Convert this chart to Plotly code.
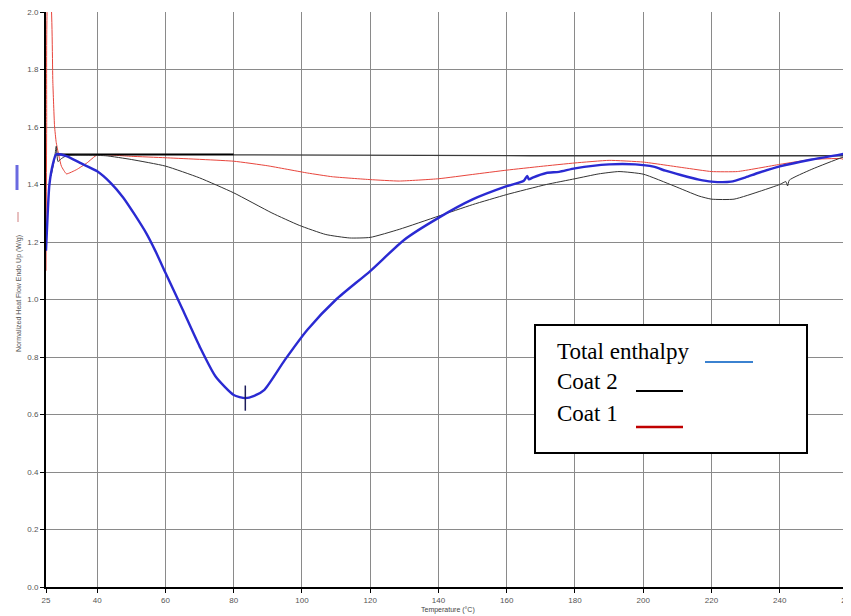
import plotly.graph_objects as go

# ---- data ----
total_T = [25, 25.5, 26, 27, 28, 31, 35, 40, 44, 47.6, 51, 54.4, 57, 60, 65, 70, 74.7, 80, 83.4,
           86, 89, 95, 101.6, 110, 120, 130, 140, 150, 160, 165, 166, 166.5, 167.6, 171.6, 175.3,
           180, 190, 197.7, 203, 206.5, 211, 216.3, 220, 225.7, 230, 233.6, 240, 249.4, 258, 260]
total_H = [1.17, 1.30, 1.40, 1.47, 1.505, 1.499, 1.475, 1.446, 1.405, 1.355, 1.295, 1.23, 1.17, 1.093,
           0.966, 0.837, 0.732, 0.668, 0.657, 0.665, 0.686, 0.79, 0.895, 1.0, 1.099, 1.208, 1.284,
           1.348, 1.394, 1.413, 1.43, 1.418, 1.424, 1.44, 1.444, 1.456, 1.47, 1.47, 1.462, 1.448,
           1.433, 1.417, 1.41, 1.41, 1.425, 1.44, 1.463, 1.487, 1.505, 1.51]

coat2_T = [26.5, 27.5, 28, 28.5, 29.5, 31, 35, 42.5, 50, 60, 70, 80, 91.2, 99.2, 107, 114, 120,
           128.5, 140, 150, 160, 171.6, 180, 187, 192.9, 200, 209, 216.3, 220, 226.6, 234.6, 240,
           241.8, 242.3, 242.8, 249.4, 258, 260]
coat2_H = [1.43, 1.49, 1.533, 1.48, 1.49, 1.50, 1.502, 1.50, 1.487, 1.464, 1.423, 1.371, 1.301,
           1.258, 1.226, 1.214, 1.216, 1.244, 1.29, 1.33, 1.365, 1.40, 1.42, 1.437, 1.445, 1.436,
           1.395, 1.36, 1.349, 1.349, 1.378, 1.40, 1.41, 1.395, 1.415, 1.453, 1.493, 1.50]

base_T_a = [28, 80]
base_H_a = [1.504, 1.504]
base_T_b = [80, 167, 260]
base_H_b = [1.503, 1.500, 1.500]

coat1_T = [25, 25.2, 25.6, 26.3, 27, 27.5, 28, 29.5, 31, 34, 37, 40, 50, 60, 80, 90, 101.6, 108.9,
           120, 128.5, 140, 150, 160, 170, 180, 190, 200, 212, 220, 227.6, 240, 249.4, 258, 260]
coat1_H = [1.10, 1.6, 2.05, 2.05, 1.757, 1.604, 1.546, 1.464, 1.437, 1.452, 1.475, 1.503, 1.498,
           1.493, 1.481, 1.465, 1.44, 1.427, 1.417, 1.412, 1.42, 1.435, 1.45, 1.463, 1.475, 1.484,
           1.478, 1.458, 1.445, 1.445, 1.47, 1.487, 1.49, 1.48]

x_ticks = [25, 40, 60, 80, 100, 120, 140, 160, 180, 200, 220, 240, 260]
y_ticks = [0.0, 0.2, 0.4, 0.6, 0.8, 1.0, 1.2, 1.4, 1.6, 1.8, 2.0]

legend_names = ["Total enthalpy", "Coat 2", "Coat 1"]
legend_colors = ["#3b82d0", "#000000", "#c00000"]

fig = go.Figure()

fig.add_trace(go.Scatter(x=coat1_T, y=coat1_H, mode="lines",
                         line=dict(color="#e8453c", width=1, shape="spline", smoothing=0.4),
                         showlegend=False))
fig.add_trace(go.Scatter(x=base_T_b, y=base_H_b, mode="lines",
                         line=dict(color="#3a3a3a", width=1.3), showlegend=False))
fig.add_trace(go.Scatter(x=base_T_a, y=base_H_a, mode="lines",
                         line=dict(color="#000000", width=2), showlegend=False))
fig.add_trace(go.Scatter(x=coat2_T, y=coat2_H, mode="lines",
                         line=dict(color="#333333", width=1, shape="spline", smoothing=0.5),
                         showlegend=False))
fig.add_trace(go.Scatter(x=total_T, y=total_H, mode="lines",
                         line=dict(color="#2a2ad2", width=2.4, shape="spline", smoothing=0.6),
                         showlegend=False))

# cursor marks at the minimum and at the end of the total enthalpy curve
imin = total_H.index(min(total_H))
fig.add_trace(go.Scatter(x=[total_T[imin]], y=[total_H[imin]], mode="markers",
                         marker=dict(symbol="line-ns-open", size=18, color="#1c1c5a",
                                     line=dict(color="#1c1c5a", width=1.5)),
                         showlegend=False))
fig.add_trace(go.Scatter(x=[total_T[-1] - 0.5], y=[total_H[-1]], mode="markers",
                         marker=dict(symbol="line-ns-open", size=16, color="#333333",
                                     line=dict(color="#333333", width=1.2)),
                         showlegend=False))

# the page body has an 8px margin, so the figure is sized/offset to compensate
OFF = 8
PAGE_W, PAGE_H = 851, 616
W, H = PAGE_W - OFF, PAGE_H - OFF
PL, PR, PT, PB = 46, 848, 12, 587          # desired plot-area edges in page pixels
L, R, T, B = PL - OFF, PAGE_W - PR, PT - OFF, PAGE_H - PB
pw, ph = PR - PL, PB - PT


def px(xp):
    return (xp - PL) / pw


def py(yp):
    return (PB - yp) / ph


shapes = []
annotations = []

# legend box
shapes.append(dict(type="rect", xref="paper", yref="paper",
                   x0=px(535), x1=px(807), y0=py(453), y1=py(325),
                   line=dict(color="black", width=2), fillcolor="white", layer="above"))
text_y = [352, 381, 413]
seg = [(705, 753, 362), (636, 683, 391), (636, 683, 427)]
for name, col, ty, (sx0, sx1, sy) in zip(legend_names, legend_colors, text_y, seg):
    annotations.append(dict(xref="paper", yref="paper", x=px(555), y=py(ty),
                            xanchor="left", yanchor="middle", showarrow=False, text=name,
                            font=dict(family="Liberation Serif", size=23, color="black")))
    shapes.append(dict(type="line", xref="paper", yref="paper",
                       x0=px(sx0), x1=px(sx1), y0=py(sy), y1=py(sy),
                       line=dict(color=col, width=2.5 if col == "#c00000" else 1.8),
                       layer="above"))

# y-axis title with its little series keys
annotations.append(dict(xref="paper", yref="paper", x=px(19), y=py(294), textangle=-90,
                        xanchor="center", yanchor="middle",
                        showarrow=False, text="Normalized Heat Flow Endo Up (W/g)",
                        font=dict(family="Liberation Sans", size=7, color="#555555")))
shapes.append(dict(type="line", xref="paper", yref="paper", x0=px(17), x1=px(17),
                   y0=py(190), y1=py(165), line=dict(color="#6a6ae0", width=3)))
shapes.append(dict(type="line", xref="paper", yref="paper", x0=px(18), x1=px(18),
                   y0=py(222), y1=py(212), line=dict(color="#d08080", width=1)))
# x-axis title
annotations.append(dict(xref="paper", yref="paper", x=px(448), y=py(610),
                        xanchor="center", yanchor="middle",
                        showarrow=False, text="Temperature (°C)",
                        font=dict(family="Liberation Sans", size=7, color="#444444")))

fig.update_layout(
    width=W, height=H,
    margin=dict(l=L, r=R, t=T, b=B, autoexpand=False),
    paper_bgcolor="white", plot_bgcolor="white",
    shapes=shapes, annotations=annotations,
    showlegend=False,
    font=dict(family="Liberation Sans", size=8, color="#555555"),
)
fig.update_xaxes(range=[25, 260], tickvals=x_ticks, ticktext=[str(v) for v in x_ticks],
                 showgrid=True, gridcolor="#8a8a8a", gridwidth=1, automargin=False,
                 showline=True, linecolor="black", linewidth=2, ticklabeloverflow="allow",
                 ticks="outside", ticklen=4, tickcolor="black", zeroline=False,
                 tickfont=dict(size=8, color="#555555"))
fig.update_yaxes(range=[0, 2.0], tickvals=y_ticks, tickformat=".1f",
                 showgrid=True, gridcolor="#8a8a8a", gridwidth=1, automargin=False,
                 showline=True, linecolor="black", linewidth=2, ticklabeloverflow="allow",
                 ticks="outside", ticklen=4, tickcolor="black", zeroline=False,
                 tickfont=dict(size=8, color="#555555"))

fig.write_html("out.html")
